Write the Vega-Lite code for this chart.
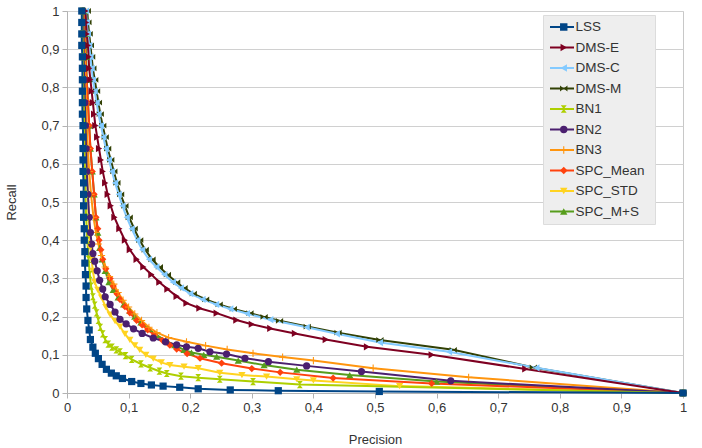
{
"$schema": "https://vega.github.io/schema/vega-lite/v6.json",
"width": 616, "height": 382,
"autosize": {"type": "none"},
"padding": {"left": 67, "top": 11, "right": 19, "bottom": 55},
"background": "white",
"config": {"font": "Liberation Sans", "view": {"stroke": "#c8c8c8", "strokeWidth": 1}},
"data": {"values": [
{"s":"SPC_M+S","p":0.029,"r":1},{"s":"SPC_M+S","p":0.030,"r":0.94},{"s":"SPC_M+S","p":0.031,"r":0.88},{"s":"SPC_M+S","p":0.032,"r":0.82},{"s":"SPC_M+S","p":0.034,"r":0.76},{"s":"SPC_M+S","p":0.036,"r":0.70},{"s":"SPC_M+S","p":0.038,"r":0.64},{"s":"SPC_M+S","p":0.041,"r":0.58},{"s":"SPC_M+S","p":0.044,"r":0.52},{"s":"SPC_M+S","p":0.047,"r":0.46},{"s":"SPC_M+S","p":0.050,"r":0.42},{"s":"SPC_M+S","p":0.053,"r":0.38},{"s":"SPC_M+S","p":0.057,"r":0.35},{"s":"SPC_M+S","p":0.062,"r":0.32},{"s":"SPC_M+S","p":0.068,"r":0.29},{"s":"SPC_M+S","p":0.075,"r":0.27},{"s":"SPC_M+S","p":0.083,"r":0.25},{"s":"SPC_M+S","p":0.092,"r":0.232},{"s":"SPC_M+S","p":0.102,"r":0.215},{"s":"SPC_M+S","p":0.11,"r":0.2},{"s":"SPC_M+S","p":0.12,"r":0.185},{"s":"SPC_M+S","p":0.132,"r":0.168},{"s":"SPC_M+S","p":0.145,"r":0.152},{"s":"SPC_M+S","p":0.16,"r":0.137},{"s":"SPC_M+S","p":0.175,"r":0.125},{"s":"SPC_M+S","p":0.19,"r":0.113},{"s":"SPC_M+S","p":0.202,"r":0.106},{"s":"SPC_M+S","p":0.222,"r":0.1},{"s":"SPC_M+S","p":0.243,"r":0.095},{"s":"SPC_M+S","p":0.278,"r":0.085},{"s":"SPC_M+S","p":0.32,"r":0.073},{"s":"SPC_M+S","p":0.373,"r":0.061},{"s":"SPC_M+S","p":0.459,"r":0.047},{"s":"SPC_M+S","p":0.6,"r":0.03},{"s":"SPC_M+S","p":1,"r":0},
{"s":"SPC_STD","p":0.026,"r":1},{"s":"SPC_STD","p":0.027,"r":0.94},{"s":"SPC_STD","p":0.028,"r":0.88},{"s":"SPC_STD","p":0.029,"r":0.82},{"s":"SPC_STD","p":0.030,"r":0.76},{"s":"SPC_STD","p":0.031,"r":0.70},{"s":"SPC_STD","p":0.032,"r":0.64},{"s":"SPC_STD","p":0.033,"r":0.58},{"s":"SPC_STD","p":0.034,"r":0.52},{"s":"SPC_STD","p":0.035,"r":0.46},{"s":"SPC_STD","p":0.036,"r":0.42},{"s":"SPC_STD","p":0.038,"r":0.38},{"s":"SPC_STD","p":0.040,"r":0.35},{"s":"SPC_STD","p":0.042,"r":0.32},{"s":"SPC_STD","p":0.045,"r":0.29},{"s":"SPC_STD","p":0.050,"r":0.27},{"s":"SPC_STD","p":0.056,"r":0.25},{"s":"SPC_STD","p":0.063,"r":0.225},{"s":"SPC_STD","p":0.070,"r":0.205},{"s":"SPC_STD","p":0.078,"r":0.188},{"s":"SPC_STD","p":0.086,"r":0.174},{"s":"SPC_STD","p":0.094,"r":0.155},{"s":"SPC_STD","p":0.102,"r":0.139},{"s":"SPC_STD","p":0.11,"r":0.125},{"s":"SPC_STD","p":0.118,"r":0.113},{"s":"SPC_STD","p":0.128,"r":0.1},{"s":"SPC_STD","p":0.14,"r":0.09},{"s":"SPC_STD","p":0.153,"r":0.08},{"s":"SPC_STD","p":0.167,"r":0.073},{"s":"SPC_STD","p":0.19,"r":0.069},{"s":"SPC_STD","p":0.213,"r":0.065},{"s":"SPC_STD","p":0.248,"r":0.053},{"s":"SPC_STD","p":0.284,"r":0.047},{"s":"SPC_STD","p":0.324,"r":0.043},{"s":"SPC_STD","p":0.373,"r":0.036},{"s":"SPC_STD","p":0.4,"r":0.033},{"s":"SPC_STD","p":0.54,"r":0.018},{"s":"SPC_STD","p":1,"r":0},
{"s":"SPC_Mean","p":0.028,"r":1},{"s":"SPC_Mean","p":0.029,"r":0.94},{"s":"SPC_Mean","p":0.030,"r":0.88},{"s":"SPC_Mean","p":0.032,"r":0.82},{"s":"SPC_Mean","p":0.034,"r":0.76},{"s":"SPC_Mean","p":0.036,"r":0.70},{"s":"SPC_Mean","p":0.038,"r":0.64},{"s":"SPC_Mean","p":0.041,"r":0.58},{"s":"SPC_Mean","p":0.044,"r":0.52},{"s":"SPC_Mean","p":0.047,"r":0.46},{"s":"SPC_Mean","p":0.050,"r":0.43},{"s":"SPC_Mean","p":0.052,"r":0.40},{"s":"SPC_Mean","p":0.055,"r":0.375},{"s":"SPC_Mean","p":0.058,"r":0.35},{"s":"SPC_Mean","p":0.063,"r":0.325},{"s":"SPC_Mean","p":0.070,"r":0.30},{"s":"SPC_Mean","p":0.075,"r":0.28},{"s":"SPC_Mean","p":0.081,"r":0.26},{"s":"SPC_Mean","p":0.086,"r":0.245},{"s":"SPC_Mean","p":0.094,"r":0.226},{"s":"SPC_Mean","p":0.102,"r":0.21},{"s":"SPC_Mean","p":0.113,"r":0.19},{"s":"SPC_Mean","p":0.122,"r":0.178},{"s":"SPC_Mean","p":0.131,"r":0.165},{"s":"SPC_Mean","p":0.142,"r":0.152},{"s":"SPC_Mean","p":0.155,"r":0.138},{"s":"SPC_Mean","p":0.167,"r":0.125},{"s":"SPC_Mean","p":0.178,"r":0.115},{"s":"SPC_Mean","p":0.195,"r":0.103},{"s":"SPC_Mean","p":0.216,"r":0.091},{"s":"SPC_Mean","p":0.251,"r":0.078},{"s":"SPC_Mean","p":0.3,"r":0.064},{"s":"SPC_Mean","p":0.346,"r":0.054},{"s":"SPC_Mean","p":0.432,"r":0.039},{"s":"SPC_Mean","p":0.592,"r":0.025},{"s":"SPC_Mean","p":1,"r":0},
{"s":"BN3","p":0.027,"r":1},{"s":"BN3","p":0.028,"r":0.94},{"s":"BN3","p":0.029,"r":0.88},{"s":"BN3","p":0.030,"r":0.82},{"s":"BN3","p":0.031,"r":0.76},{"s":"BN3","p":0.032,"r":0.70},{"s":"BN3","p":0.034,"r":0.64},{"s":"BN3","p":0.036,"r":0.58},{"s":"BN3","p":0.039,"r":0.52},{"s":"BN3","p":0.043,"r":0.46},{"s":"BN3","p":0.047,"r":0.42},{"s":"BN3","p":0.051,"r":0.39},{"s":"BN3","p":0.056,"r":0.36},{"s":"BN3","p":0.062,"r":0.33},{"s":"BN3","p":0.069,"r":0.305},{"s":"BN3","p":0.076,"r":0.285},{"s":"BN3","p":0.083,"r":0.263},{"s":"BN3","p":0.091,"r":0.243},{"s":"BN3","p":0.1,"r":0.225},{"s":"BN3","p":0.11,"r":0.207},{"s":"BN3","p":0.121,"r":0.19},{"s":"BN3","p":0.133,"r":0.172},{"s":"BN3","p":0.146,"r":0.158},{"s":"BN3","p":0.165,"r":0.145},{"s":"BN3","p":0.194,"r":0.134},{"s":"BN3","p":0.225,"r":0.124},{"s":"BN3","p":0.26,"r":0.114},{"s":"BN3","p":0.302,"r":0.104},{"s":"BN3","p":0.35,"r":0.094},{"s":"BN3","p":0.4,"r":0.085},{"s":"BN3","p":0.497,"r":0.065},{"s":"BN3","p":0.652,"r":0.041},{"s":"BN3","p":1,"r":0},
{"s":"BN2","p":0.026,"r":1},{"s":"BN2","p":0.027,"r":0.94},{"s":"BN2","p":0.027,"r":0.88},{"s":"BN2","p":0.028,"r":0.82},{"s":"BN2","p":0.029,"r":0.76},{"s":"BN2","p":0.030,"r":0.70},{"s":"BN2","p":0.031,"r":0.64},{"s":"BN2","p":0.032,"r":0.58},{"s":"BN2","p":0.034,"r":0.52},{"s":"BN2","p":0.036,"r":0.46},{"s":"BN2","p":0.038,"r":0.42},{"s":"BN2","p":0.040,"r":0.39},{"s":"BN2","p":0.042,"r":0.365},{"s":"BN2","p":0.045,"r":0.345},{"s":"BN2","p":0.049,"r":0.32},{"s":"BN2","p":0.053,"r":0.295},{"s":"BN2","p":0.058,"r":0.272},{"s":"BN2","p":0.062,"r":0.252},{"s":"BN2","p":0.07,"r":0.232},{"s":"BN2","p":0.078,"r":0.212},{"s":"BN2","p":0.086,"r":0.193},{"s":"BN2","p":0.096,"r":0.181},{"s":"BN2","p":0.108,"r":0.168},{"s":"BN2","p":0.122,"r":0.156},{"s":"BN2","p":0.14,"r":0.144},{"s":"BN2","p":0.16,"r":0.134},{"s":"BN2","p":0.178,"r":0.126},{"s":"BN2","p":0.194,"r":0.121},{"s":"BN2","p":0.213,"r":0.117},{"s":"BN2","p":0.232,"r":0.108},{"s":"BN2","p":0.259,"r":0.102},{"s":"BN2","p":0.289,"r":0.091},{"s":"BN2","p":0.327,"r":0.082},{"s":"BN2","p":0.389,"r":0.071},{"s":"BN2","p":0.478,"r":0.056},{"s":"BN2","p":0.623,"r":0.032},{"s":"BN2","p":1,"r":0},
{"s":"BN1","p":0.025,"r":1},{"s":"BN1","p":0.025,"r":0.94},{"s":"BN1","p":0.026,"r":0.88},{"s":"BN1","p":0.026,"r":0.82},{"s":"BN1","p":0.027,"r":0.76},{"s":"BN1","p":0.028,"r":0.70},{"s":"BN1","p":0.028,"r":0.64},{"s":"BN1","p":0.029,"r":0.58},{"s":"BN1","p":0.030,"r":0.52},{"s":"BN1","p":0.031,"r":0.46},{"s":"BN1","p":0.033,"r":0.40},{"s":"BN1","p":0.035,"r":0.35},{"s":"BN1","p":0.037,"r":0.31},{"s":"BN1","p":0.039,"r":0.28},{"s":"BN1","p":0.042,"r":0.252},{"s":"BN1","p":0.045,"r":0.23},{"s":"BN1","p":0.048,"r":0.21},{"s":"BN1","p":0.051,"r":0.19},{"s":"BN1","p":0.054,"r":0.172},{"s":"BN1","p":0.058,"r":0.155},{"s":"BN1","p":0.062,"r":0.14},{"s":"BN1","p":0.067,"r":0.128},{"s":"BN1","p":0.073,"r":0.12},{"s":"BN1","p":0.08,"r":0.113},{"s":"BN1","p":0.086,"r":0.108},{"s":"BN1","p":0.095,"r":0.098},{"s":"BN1","p":0.105,"r":0.088},{"s":"BN1","p":0.12,"r":0.076},{"s":"BN1","p":0.135,"r":0.066},{"s":"BN1","p":0.15,"r":0.057},{"s":"BN1","p":0.162,"r":0.051},{"s":"BN1","p":0.185,"r":0.044},{"s":"BN1","p":0.213,"r":0.04},{"s":"BN1","p":0.248,"r":0.036},{"s":"BN1","p":0.302,"r":0.03},{"s":"BN1","p":0.378,"r":0.022},{"s":"BN1","p":1,"r":0},
{"s":"DMS-M","p":0.033,"r":1},{"s":"DMS-M","p":0.034,"r":0.97},{"s":"DMS-M","p":0.036,"r":0.94},{"s":"DMS-M","p":0.038,"r":0.91},{"s":"DMS-M","p":0.040,"r":0.88},{"s":"DMS-M","p":0.042,"r":0.85},{"s":"DMS-M","p":0.045,"r":0.82},{"s":"DMS-M","p":0.048,"r":0.79},{"s":"DMS-M","p":0.051,"r":0.76},{"s":"DMS-M","p":0.054,"r":0.73},{"s":"DMS-M","p":0.058,"r":0.70},{"s":"DMS-M","p":0.062,"r":0.67},{"s":"DMS-M","p":0.066,"r":0.64},{"s":"DMS-M","p":0.071,"r":0.61},{"s":"DMS-M","p":0.076,"r":0.58},{"s":"DMS-M","p":0.081,"r":0.55},{"s":"DMS-M","p":0.087,"r":0.52},{"s":"DMS-M","p":0.094,"r":0.49},{"s":"DMS-M","p":0.101,"r":0.46},{"s":"DMS-M","p":0.109,"r":0.43},{"s":"DMS-M","p":0.118,"r":0.40},{"s":"DMS-M","p":0.127,"r":0.375},{"s":"DMS-M","p":0.138,"r":0.35},{"s":"DMS-M","p":0.15,"r":0.33},{"s":"DMS-M","p":0.163,"r":0.31},{"s":"DMS-M","p":0.178,"r":0.29},{"s":"DMS-M","p":0.19,"r":0.275},{"s":"DMS-M","p":0.205,"r":0.26},{"s":"DMS-M","p":0.225,"r":0.245},{"s":"DMS-M","p":0.247,"r":0.232},{"s":"DMS-M","p":0.27,"r":0.22},{"s":"DMS-M","p":0.297,"r":0.209},{"s":"DMS-M","p":0.32,"r":0.199},{"s":"DMS-M","p":0.345,"r":0.189},{"s":"DMS-M","p":0.39,"r":0.174},{"s":"DMS-M","p":0.44,"r":0.158},{"s":"DMS-M","p":0.508,"r":0.139},{"s":"DMS-M","p":0.627,"r":0.113},{"s":"DMS-M","p":0.757,"r":0.067},{"s":"DMS-M","p":1,"r":0},
{"s":"DMS-C","p":0.031,"r":1},{"s":"DMS-C","p":0.032,"r":0.97},{"s":"DMS-C","p":0.034,"r":0.94},{"s":"DMS-C","p":0.036,"r":0.91},{"s":"DMS-C","p":0.038,"r":0.88},{"s":"DMS-C","p":0.040,"r":0.85},{"s":"DMS-C","p":0.042,"r":0.82},{"s":"DMS-C","p":0.045,"r":0.79},{"s":"DMS-C","p":0.048,"r":0.76},{"s":"DMS-C","p":0.051,"r":0.73},{"s":"DMS-C","p":0.055,"r":0.70},{"s":"DMS-C","p":0.059,"r":0.67},{"s":"DMS-C","p":0.063,"r":0.64},{"s":"DMS-C","p":0.068,"r":0.61},{"s":"DMS-C","p":0.073,"r":0.58},{"s":"DMS-C","p":0.078,"r":0.55},{"s":"DMS-C","p":0.084,"r":0.52},{"s":"DMS-C","p":0.09,"r":0.49},{"s":"DMS-C","p":0.097,"r":0.46},{"s":"DMS-C","p":0.105,"r":0.43},{"s":"DMS-C","p":0.114,"r":0.40},{"s":"DMS-C","p":0.122,"r":0.375},{"s":"DMS-C","p":0.133,"r":0.35},{"s":"DMS-C","p":0.145,"r":0.33},{"s":"DMS-C","p":0.158,"r":0.31},{"s":"DMS-C","p":0.172,"r":0.29},{"s":"DMS-C","p":0.185,"r":0.275},{"s":"DMS-C","p":0.2,"r":0.26},{"s":"DMS-C","p":0.22,"r":0.245},{"s":"DMS-C","p":0.242,"r":0.232},{"s":"DMS-C","p":0.265,"r":0.22},{"s":"DMS-C","p":0.292,"r":0.208},{"s":"DMS-C","p":0.33,"r":0.192},{"s":"DMS-C","p":0.389,"r":0.172},{"s":"DMS-C","p":0.438,"r":0.155},{"s":"DMS-C","p":0.508,"r":0.132},{"s":"DMS-C","p":0.62,"r":0.108},{"s":"DMS-C","p":0.762,"r":0.066},{"s":"DMS-C","p":1,"r":0},
{"s":"DMS-E","p":0.030,"r":1},{"s":"DMS-E","p":0.031,"r":0.97},{"s":"DMS-E","p":0.032,"r":0.94},{"s":"DMS-E","p":0.034,"r":0.91},{"s":"DMS-E","p":0.035,"r":0.88},{"s":"DMS-E","p":0.036,"r":0.85},{"s":"DMS-E","p":0.038,"r":0.82},{"s":"DMS-E","p":0.040,"r":0.79},{"s":"DMS-E","p":0.042,"r":0.76},{"s":"DMS-E","p":0.044,"r":0.73},{"s":"DMS-E","p":0.046,"r":0.70},{"s":"DMS-E","p":0.049,"r":0.67},{"s":"DMS-E","p":0.052,"r":0.64},{"s":"DMS-E","p":0.055,"r":0.61},{"s":"DMS-E","p":0.058,"r":0.58},{"s":"DMS-E","p":0.062,"r":0.55},{"s":"DMS-E","p":0.066,"r":0.52},{"s":"DMS-E","p":0.071,"r":0.49},{"s":"DMS-E","p":0.077,"r":0.46},{"s":"DMS-E","p":0.085,"r":0.43},{"s":"DMS-E","p":0.094,"r":0.40},{"s":"DMS-E","p":0.102,"r":0.375},{"s":"DMS-E","p":0.113,"r":0.35},{"s":"DMS-E","p":0.124,"r":0.33},{"s":"DMS-E","p":0.137,"r":0.31},{"s":"DMS-E","p":0.15,"r":0.29},{"s":"DMS-E","p":0.163,"r":0.272},{"s":"DMS-E","p":0.178,"r":0.253},{"s":"DMS-E","p":0.194,"r":0.235},{"s":"DMS-E","p":0.215,"r":0.222},{"s":"DMS-E","p":0.243,"r":0.209},{"s":"DMS-E","p":0.275,"r":0.191},{"s":"DMS-E","p":0.3,"r":0.18},{"s":"DMS-E","p":0.33,"r":0.169},{"s":"DMS-E","p":0.37,"r":0.156},{"s":"DMS-E","p":0.42,"r":0.14},{"s":"DMS-E","p":0.487,"r":0.121},{"s":"DMS-E","p":0.592,"r":0.1},{"s":"DMS-E","p":0.744,"r":0.063},{"s":"DMS-E","p":1,"r":0},
{"s":"LSS","p":0.024,"r":1},{"s":"LSS","p":0.024,"r":0.97},{"s":"LSS","p":0.024,"r":0.94},{"s":"LSS","p":0.024,"r":0.91},{"s":"LSS","p":0.025,"r":0.88},{"s":"LSS","p":0.025,"r":0.85},{"s":"LSS","p":0.025,"r":0.82},{"s":"LSS","p":0.025,"r":0.79},{"s":"LSS","p":0.025,"r":0.76},{"s":"LSS","p":0.025,"r":0.73},{"s":"LSS","p":0.026,"r":0.70},{"s":"LSS","p":0.026,"r":0.67},{"s":"LSS","p":0.026,"r":0.64},{"s":"LSS","p":0.026,"r":0.61},{"s":"LSS","p":0.026,"r":0.58},{"s":"LSS","p":0.027,"r":0.55},{"s":"LSS","p":0.027,"r":0.52},{"s":"LSS","p":0.027,"r":0.49},{"s":"LSS","p":0.027,"r":0.46},{"s":"LSS","p":0.028,"r":0.43},{"s":"LSS","p":0.028,"r":0.40},{"s":"LSS","p":0.029,"r":0.37},{"s":"LSS","p":0.029,"r":0.34},{"s":"LSS","p":0.030,"r":0.31},{"s":"LSS","p":0.031,"r":0.28},{"s":"LSS","p":0.031,"r":0.25},{"s":"LSS","p":0.032,"r":0.22},{"s":"LSS","p":0.034,"r":0.19},{"s":"LSS","p":0.036,"r":0.165},{"s":"LSS","p":0.038,"r":0.14},{"s":"LSS","p":0.042,"r":0.12},{"s":"LSS","p":0.046,"r":0.104},{"s":"LSS","p":0.051,"r":0.09},{"s":"LSS","p":0.057,"r":0.075},{"s":"LSS","p":0.064,"r":0.062},{"s":"LSS","p":0.072,"r":0.052},{"s":"LSS","p":0.08,"r":0.045},{"s":"LSS","p":0.09,"r":0.038},{"s":"LSS","p":0.105,"r":0.03},{"s":"LSS","p":0.12,"r":0.025},{"s":"LSS","p":0.137,"r":0.021},{"s":"LSS","p":0.156,"r":0.018},{"s":"LSS","p":0.183,"r":0.015},{"s":"LSS","p":0.213,"r":0.011},{"s":"LSS","p":0.265,"r":0.008},{"s":"LSS","p":0.343,"r":0.006},{"s":"LSS","p":0.507,"r":0.004},{"s":"LSS","p":1,"r":0}
]},
"encoding": {
  "x": {"field": "p", "type": "quantitative", "scale": {"domain": [0, 1], "nice": false},
        "axis": {"title": "Precision", "values": [0,0.1,0.2,0.3,0.4,0.5,0.6,0.7,0.8,0.9,1], "tickCount": 11, "labelExpr": "replace(format(datum.value,'~g'),'.',',')", "labelOverlap": false, "labelFlush": false, "grid": false, "domainColor": "#b3b3b3", "tickColor": "#b3b3b3", "tickSize": 5, "labelPadding": 3, "labelFontSize": 13, "labelColor": "#333333", "titleFontSize": 13, "titleFontWeight": "normal", "titleColor": "#333333", "titlePadding": 19}},
  "y": {"field": "r", "type": "quantitative", "scale": {"domain": [0, 1], "nice": false},
        "axis": {"title": "Recall", "values": [0,0.1,0.2,0.3,0.4,0.5,0.6,0.7,0.8,0.9,1], "tickCount": 11, "labelExpr": "replace(format(datum.value,'~g'),'.',',')", "labelOverlap": false, "labelFlush": false, "grid": true, "gridColor": "#d0d0d0", "domainColor": "#b3b3b3", "tickColor": "#b3b3b3", "tickSize": 5, "labelPadding": 3, "labelFontSize": 13, "labelColor": "#333333", "titleFontSize": 13, "titleFontWeight": "normal", "titleColor": "#333333", "titlePadding": 22}}
},
"layer": [
{"mark": {"type": "line", "strokeWidth": 2},
 "encoding": {
  "stroke": {"field": "s", "type": "nominal",
    "sort": ["LSS","DMS-E","DMS-C","DMS-M","BN1","BN2","BN3","SPC_Mean","SPC_STD","SPC_M+S"],
    "scale": {"range": ["#004586","#7e0021","#83caff","#314004","#aecf00","#4b1f6f","#ff950e","#ff420e","#ffd320","#579d1c"]},
    "legend": {"orient": "none", "legendX": 476, "legendY": 4, "title": null, "symbolType": "stroke", "symbolSize": 576, "symbolStrokeWidth": 2, "labelExpr": "''", "labelFontSize": 13.5, "labelOffset": 74, "clipHeight": 12, "rowPadding": 6.5, "padding": 6, "fillColor": "#eeeeee", "strokeColor": "#dcdcdc", "zindex": 1}},
  "order": {"field": "r", "sort": "descending"}
 }},
{"mark": {"type": "point", "filled": true, "size": 52, "opacity": 1},
 "encoding": {
  "color": {"field": "s", "type": "nominal",
    "scale": {"domain": ["LSS","DMS-E","DMS-C","DMS-M","BN1","BN2","BN3","SPC_Mean","SPC_STD","SPC_M+S"], "range": ["#004586","#7e0021","#83caff","#314004","#aecf00","#4b1f6f","#ff950e","#ff420e","#ffd320","#579d1c"]},
    "legend": {"orient": "none", "legendX": 484, "legendY": 4, "title": null, "symbolSize": 55, "symbolStrokeWidth": 0, "labelFontSize": 13.5, "labelColor": "#333333", "labelOffset": 5, "clipHeight": 12, "rowPadding": 6.5, "padding": 6, "zindex": 2}},
  "shape": {"field": "s", "type": "nominal",
    "scale": {"domain": ["LSS","DMS-E","DMS-C","DMS-M","BN1","BN2","BN3","SPC_Mean","SPC_STD","SPC_M+S"], "range": ["square","triangle-right","triangle-left","M-1,-0.8L1,0.8L1,-0.8L-1,0.8Z","M-0.8,-1L0.8,-1L-0.8,1L0.8,1Z","circle","M-1,-0.15L-0.15,-0.15L-0.15,-1L0.15,-1L0.15,-0.15L1,-0.15L1,0.15L0.15,0.15L0.15,1L-0.15,1L-0.15,0.15L-1,0.15Z","diamond","triangle-down","triangle-up"]},
    "legend": {"orient": "none", "legendX": 484, "legendY": 4, "title": null, "symbolSize": 55, "symbolStrokeWidth": 0, "labelFontSize": 13.5, "labelColor": "#333333", "labelOffset": 5, "clipHeight": 12, "rowPadding": 6.5, "padding": 6, "zindex": 2}}
 }}
]
}
